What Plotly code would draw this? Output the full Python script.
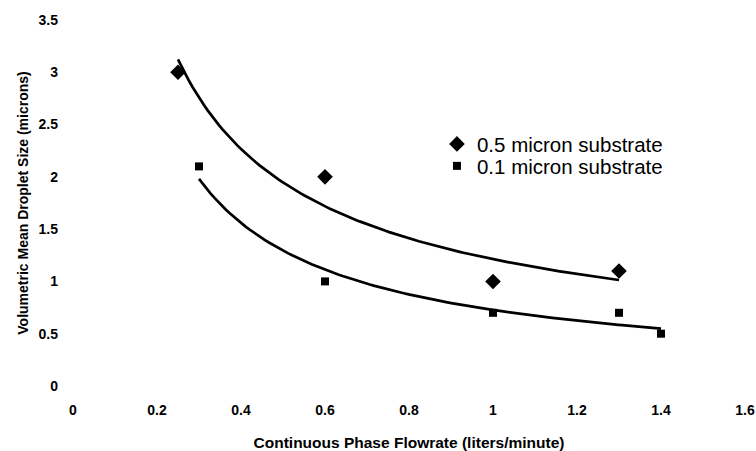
import numpy as np
import plotly.graph_objects as go

# Droplet size vs. continuous phase flowrate for two membrane substrates
flow_05 = [0.25, 0.6, 1.0, 1.3]
size_05 = [3.0, 2.0, 1.0, 1.1]

flow_01 = [0.3, 0.6, 1.0, 1.3, 1.4]
size_01 = [2.1, 1.0, 0.7, 0.7, 0.5]

x_ticks = [0, 0.2, 0.4, 0.6, 0.8, 1.0, 1.2, 1.4, 1.6]
y_ticks = [0, 0.5, 1.0, 1.5, 2.0, 2.5, 3.0, 3.5]


def power_fit(x, y, n=120):
    """Least-squares power-law trendline y = a * x**b over the data range."""
    lx, ly = np.log(x), np.log(y)
    b, ln_a = np.polyfit(lx, ly, 1)
    xs = np.linspace(min(x), max(x), n)
    return xs, np.exp(ln_a) * xs ** b


fig = go.Figure()

for fx, fy in (power_fit(flow_05, size_05), power_fit(flow_01, size_01)):
    fig.add_trace(go.Scatter(
        x=fx, y=fy, mode="lines", showlegend=False, hoverinfo="skip",
        line=dict(color="black", width=2.7),
    ))

fig.add_trace(go.Scatter(
    x=flow_05, y=size_05, mode="markers", name="0.5 micron substrate",
    marker=dict(symbol="diamond", size=12, color="black"), legend="legend",
))
fig.add_trace(go.Scatter(
    x=flow_01, y=size_01, mode="markers", name="0.1 micron substrate",
    marker=dict(symbol="square", size=8, color="black"), legend="legend2",
))

tick_font = dict(family="Arial", size=14, color="black", weight="bold")
legend_font = dict(family="Arial", size=20.5, color="black")

legend_common = dict(
    x=0.5416, xanchor="left", yanchor="middle",
    bgcolor="rgba(0,0,0,0)", font=legend_font, itemsizing="trace",
)

fig.update_layout(
    width=756, height=451,
    margin=dict(l=73, r=11, t=20, b=65),
    paper_bgcolor="white", plot_bgcolor="white",
    showlegend=True,
    legend=dict(y=0.661, **legend_common),
    legend2=dict(y=0.601, **legend_common),
    xaxis=dict(
        range=[0, 1.6], tickvals=x_ticks, ticktext=[f"{v:g}" for v in x_ticks],
        showgrid=False, zeroline=False, showline=False, ticks="",
        automargin=False,
        tickfont=tick_font, ticklabelstandoff=14,
        title=dict(text="Continuous Phase Flowrate (liters/minute)",
                   font=dict(family="Arial", size=15.5, color="black", weight="bold"),
                   standoff=20),
    ),
    yaxis=dict(
        range=[0, 3.5], tickvals=y_ticks, ticktext=[f"{v:g}" for v in y_ticks],
        showgrid=False, zeroline=False, showline=False, ticks="",
        automargin=False,
        tickfont=tick_font, ticklabelstandoff=14,
        title=dict(text="Volumetric Mean Droplet Size (microns)",
                   font=dict(family="Arial", size=14, color="black", weight="bold"),
                   standoff=6),
    ),
)

fig.write_html("out.html")
